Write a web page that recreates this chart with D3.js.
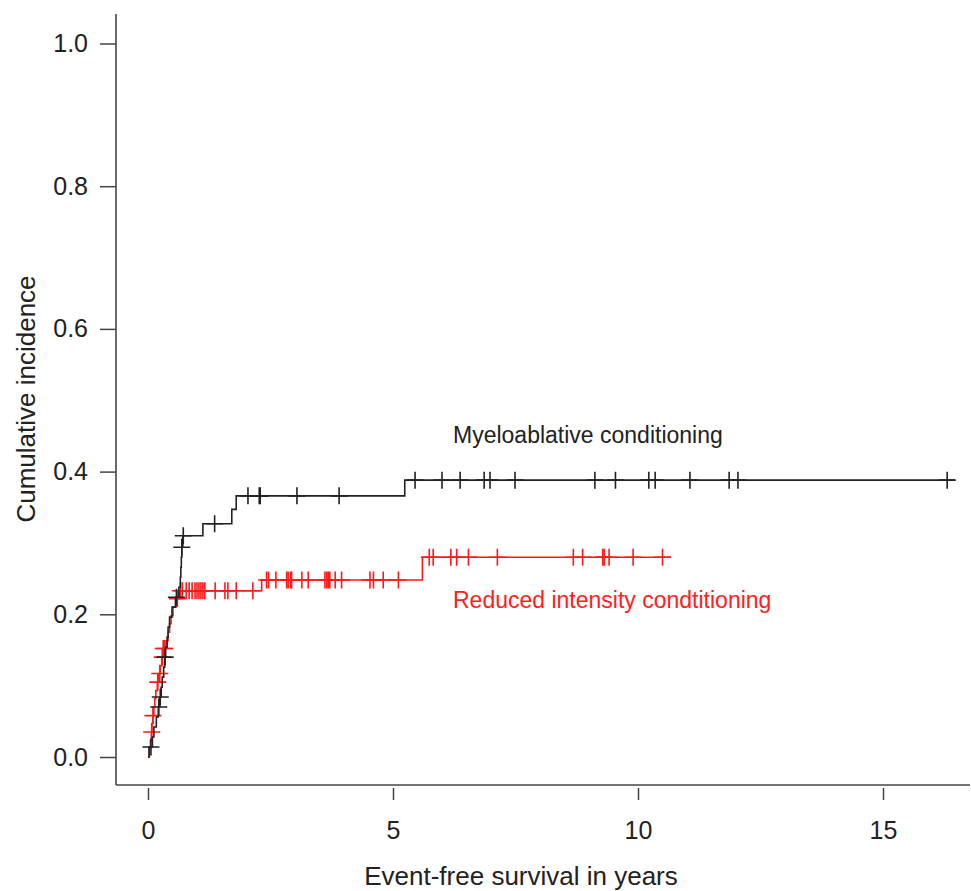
<!DOCTYPE html>
<html>
<head>
<meta charset="utf-8">
<script src="https://cdn.jsdelivr.net/npm/d3@7"></script>
<style>
  html, body { margin: 0; padding: 0; background: #fff; }
  svg { display: block; font-family: "Liberation Sans", Arial, sans-serif; }
</style>
</head>
<body>
<svg id="chart" width="971" height="891"></svg>
<script>
// Cumulative incidence steps: [time in years, value from that time on]
const macSteps = [
  [0, 0], [0.02, 0.014], [0.09, 0.028], [0.12, 0.042], [0.17, 0.056],
  [0.21, 0.07], [0.24, 0.084], [0.27, 0.098], [0.29, 0.112], [0.32, 0.126],
  [0.34, 0.14], [0.36, 0.154], [0.39, 0.168], [0.41, 0.182], [0.44, 0.196],
  [0.49, 0.21], [0.56, 0.224], [0.63, 0.238], [0.66, 0.252], [0.67, 0.266],
  [0.68, 0.28], [0.69, 0.294], [0.71, 0.31], [1.12, 0.327], [1.71, 0.347],
  [1.80, 0.366], [5.24, 0.388]
];
const macCensored = [
  0.06, 0.22, 0.25, 0.35, 0.58, 0.69, 0.72, 1.36,
  2.04, 2.27, 2.29, 3.04, 3.90,
  5.45, 6.00, 6.37, 6.86, 6.98, 7.49, 9.12, 9.54, 10.22, 10.35,
  11.06, 11.86, 12.04, 16.31
];
const macEnd = 16.47;

const ricSteps = [
  [0, 0], [0.03, 0.012], [0.05, 0.023], [0.07, 0.035], [0.08, 0.047],
  [0.10, 0.058], [0.12, 0.07], [0.14, 0.082], [0.16, 0.093], [0.19, 0.105],
  [0.22, 0.117], [0.25, 0.128], [0.28, 0.14], [0.31, 0.152], [0.37, 0.163],
  [0.41, 0.175], [0.44, 0.187], [0.47, 0.198], [0.51, 0.21], [0.57, 0.222],
  [0.64, 0.233], [2.32, 0.248], [5.60, 0.28]
];
const ricCensored = [
  0.075, 0.10, 0.20, 0.24, 0.29, 0.31, 0.34, 0.60, 0.66, 0.70,
  0.78, 0.84, 0.90, 0.96, 1.00, 1.04, 1.08, 1.12, 1.16, 1.37, 1.57, 1.63, 1.80, 2.14,
  2.42, 2.46, 2.61, 2.83, 2.86, 2.91, 2.93, 3.14, 3.27, 3.61, 3.65, 3.68, 3.71,
  3.82, 3.95, 4.53, 4.60, 4.80, 5.11,
  5.74, 5.82, 6.18, 6.30, 6.54, 7.13, 8.68, 8.87, 9.28, 9.31, 9.41, 9.90, 10.50
];
const ricEnd = 10.67;

const xTicks = [0, 5, 10, 15];
const yTicks = [0, 0.2, 0.4, 0.6, 0.8, 1.0];

const groupNames = ["Myeloablative conditioning", "Reduced intensity condtitioning"];
const xTitle = "Event-free survival in years";
const yTitle = "Cumulative incidence";

const svg = d3.select("#chart");
const x = d3.scaleLinear().domain([0, 15]).range([148, 883]);
const y = d3.scaleLinear().domain([0, 1]).range([757, 43.5]);

const axisColor = "#444";
const textColor = "#222";

// L-shaped frame
svg.append("line").attr("x1", 116).attr("x2", 116).attr("y1", 14).attr("y2", 785)
  .attr("stroke", axisColor).attr("stroke-width", 1.6);
svg.append("line").attr("x1", 116).attr("x2", 970).attr("y1", 785).attr("y2", 785)
  .attr("stroke", axisColor).attr("stroke-width", 1.6);

// Y axis
const gy = svg.append("g").attr("transform", "translate(116,0)")
  .call(d3.axisLeft(y).tickValues(yTicks).tickFormat(d3.format(".1f"))
    .tickSize(16).tickPadding(11));
gy.select(".domain").remove();
gy.selectAll(".tick line").attr("stroke", axisColor).attr("stroke-width", 1.5);
gy.selectAll(".tick text").attr("fill", textColor).attr("x", -28)
  .style("font-size", "25px")
  .style("font-family", "'Liberation Sans', Arial, sans-serif");

// X axis
const gx = svg.append("g").attr("transform", "translate(0,788)")
  .call(d3.axisBottom(x).tickValues(xTicks).tickFormat(d3.format("d"))
    .tickSize(12));
gx.select(".domain").remove();
gx.selectAll(".tick line").attr("stroke", axisColor).attr("stroke-width", 1.5);
gx.selectAll(".tick text").attr("fill", textColor).attr("y", 51).attr("dy", 0)
  .style("font-size", "25px")
  .style("font-family", "'Liberation Sans', Arial, sans-serif");

// Axis titles
svg.append("text").attr("x", 521).attr("y", 885).attr("text-anchor", "middle")
  .attr("fill", textColor).style("font-size", "26px").text(xTitle);
svg.append("text").attr("transform", "translate(35,399) rotate(-90)")
  .attr("text-anchor", "middle").attr("fill", textColor).style("font-size", "26px")
  .text(yTitle);

// Step curves with censoring marks
function valueAt(steps, t) {
  let v = 0;
  for (const [st, sv] of steps) { if (st <= t) v = sv; else break; }
  return v;
}

const line = d3.line().x(d => x(d[0])).y(d => y(d[1])).curve(d3.curveStepAfter);

function drawGroup(steps, censored, end, color) {
  const pts = steps.concat([[end, steps[steps.length - 1][1]]]);
  svg.append("path").datum(pts).attr("d", line)
    .attr("fill", "none").attr("stroke", color).attr("stroke-width", 1.6);
  const h = 8.5;
  svg.append("g").selectAll("path").data(censored).join("path")
    .attr("d", t => {
      const cx = x(t), cy = y(valueAt(steps, t));
      return `M${cx - h},${cy}H${cx + h}M${cx},${cy - h}V${cy + h}`;
    })
    .attr("stroke", color).attr("stroke-width", 1.6).attr("fill", "none");
}

drawGroup(ricSteps, ricCensored, ricEnd, "#ff1a1a");
drawGroup(macSteps, macCensored, macEnd, "#222");

// Group labels
svg.append("text").attr("x", 453).attr("y", 443).attr("fill", textColor)
  .style("font-size", "23px").text(groupNames[0]);
svg.append("text").attr("x", 453).attr("y", 608).attr("fill", "#ff2020")
  .style("font-size", "23px").text(groupNames[1]);
</script>
</body>
</html>
